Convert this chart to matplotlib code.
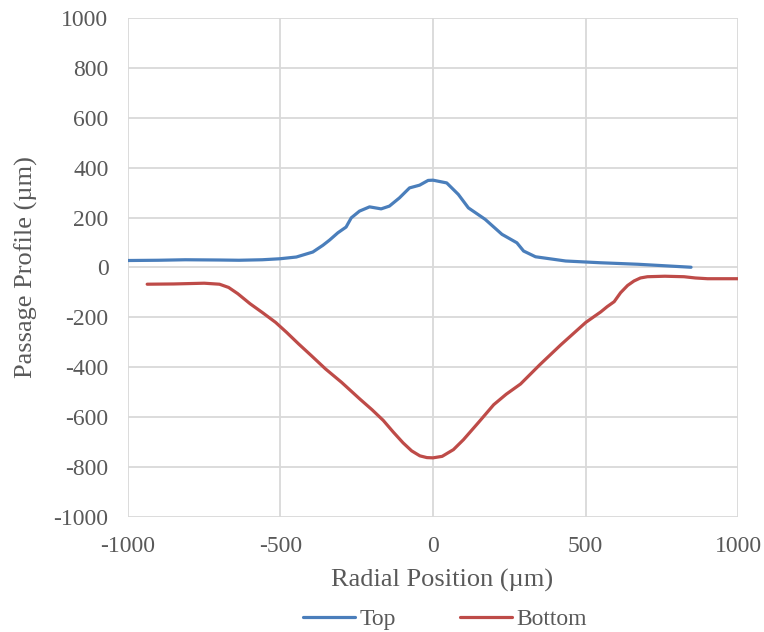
import matplotlib.pyplot as plt

# Passage profile (radial position in µm)
top_x = [-1000, -900, -812, -700, -636, -560, -502, -448, -394, -361, -339, -312,
         -285, -268, -241, -208, -170, -143, -110, -77, -44, -16, 0, 45, 83, 116,
         171, 226, 275, 297, 336, 435, 549, 671, 846]
top_y = [28, 29, 31, 30, 29, 31, 35, 42, 62, 89, 110, 139,
         162, 199, 226, 243, 235, 246, 279, 319, 330, 349, 350, 339, 293, 239,
         193, 133, 99, 66, 43, 26, 19, 13, 1]

bottom_x = [-937, -850, -750, -700, -670, -640, -600, -560, -516, -480, -440, -400,
            -352, -300, -240, -200, -163, -130, -98, -70, -43, -20, 0, 30, 67,
            100, 150, 199, 240, 287, 350, 419, 460, 501, 550, 571, 594, 615, 638,
            659, 680, 703, 760, 823, 860, 900, 1000]
bottom_y = [-67, -66, -63, -67, -80, -105, -145, -180, -220, -260, -307, -352,
            -407, -460, -527, -570, -613, -660, -703, -735, -755, -762, -763, -757, -730,
            -690, -620, -550, -508, -467, -390, -310, -265, -220, -178, -157, -137, -101, -72,
            -54, -42, -37, -35, -37, -42, -45, -45]

x_ticks = [-1000, -500, 0, 500, 1000]
y_ticks = list(range(-1000, 1001, 200))

plt.rcParams['font.family'] = ['Liberation Serif', 'DejaVu Serif']
plt.rcParams['axes.unicode_minus'] = False

text_col = '#595959'

fig = plt.figure(figsize=(7.64, 6.32), dpi=100)
ax = fig.add_axes([0.1675, 0.182, 0.7985, 0.7895])

ax.plot(top_x, top_y, color='#4a7ebb', lw=2.3, label='Top',
        solid_capstyle='round', solid_joinstyle='round')
ax.plot(bottom_x, bottom_y, color='#be4b48', lw=2.3, label='Bottom',
        solid_capstyle='round', solid_joinstyle='round')

ax.set_xlim(-1000, 1000)
ax.set_ylim(-1000, 1000)
ax.set_xticks(x_ticks)
ax.set_yticks(y_ticks)
ax.grid(True, color='#d9d9d9', lw=1.3)
ax.set_axisbelow(True)
for s in ax.spines.values():
    s.set_visible(False)
ax.tick_params(axis='both', length=0, labelsize=17, labelcolor=text_col)
ax.tick_params(axis='y', pad=14)
ax.tick_params(axis='x', pad=14)

ax.set_xlabel('Radial Position (µm)', fontsize=19, color=text_col)
ax.xaxis.set_label_coords(0.515, -0.127, transform=ax.transAxes)
ax.xaxis.label.set_va('center')
ax.set_ylabel('Passage Profile (µm)', fontsize=19, color=text_col, labelpad=11)

ax.legend(loc='upper center', bbox_to_anchor=(0.52, -0.165), ncol=2, frameon=False,
          fontsize=17, labelcolor=text_col, handlelength=2.2, columnspacing=2.7,
          handletextpad=0.2, borderaxespad=0)

fig.savefig('out.png', dpi=100)
